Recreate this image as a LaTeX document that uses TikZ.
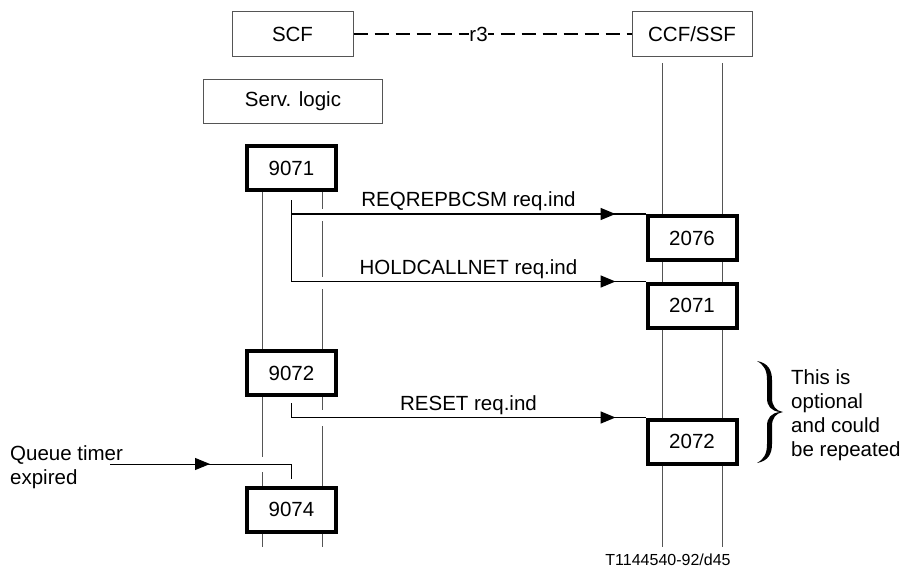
\documentclass[tikz,border=0pt]{standalone}
\usepackage{fontspec}
\setmainfont{Liberation Sans}
\usetikzlibrary{arrows.meta,decorations.markings}
\definecolor{lifegray}{RGB}{85,85,85}

\begin{document}
\begin{tikzpicture}[
    x=1pt, y=-1pt,
    every node/.style={font=\fontsize{20.5}{24}\selectfont},
    entity/.style={draw=lifegray, line width=1pt, minimum height=45pt, inner sep=0pt},
    statebox/.style={draw, line width=4pt, minimum width=89pt, minimum height=44pt, inner sep=0pt},
    life/.style={draw=lifegray, line width=1pt},
    midarrow/.style={
        postaction={decorate},
        decoration={markings, mark=at position #1 with {\arrow{Triangle[length=15pt, width=12pt]}}}
    },
    msg/.style={line width=1.6pt, midarrow=-30pt}
]
\useasboundingbox (0,0) rectangle (900,571);

% =================== Entities ===================
\node[entity, minimum width=121pt] (scf) at (292.5,34) {SCF};
\node[entity, minimum width=120pt] (ccf) at (692,34) {CCF/SSF};
\node[entity, minimum width=179pt, minimum height=44pt] (logic) at (293,101.5) {Serv. logic};

\draw[line width=1.5pt, dash pattern=on 14pt off 7pt]
    (scf) -- node[pos=0.45, fill=white, inner sep=0pt] (r3) {r3} (ccf);

% =================== State boxes ===================
\node[statebox] (s9071) at (291.5,168) {9071};
\node[statebox] (s9072) at (291.5,373) {9072};
\node[statebox] (s9074) at (291.5,509.5) {9074};
\node[statebox] (s2076) at (692,238) {2076};
\node[statebox] (s2071) at (692,305.5) {2071};
\node[statebox] (s2072) at (692,441.5) {2072};

% =================== Life lines ===================
\coordinate (sa) at (262,0);
\coordinate (sb) at (322,0);

% SCF, left line
\draw[life] (s9071.south -| sa) -- (s9072.north -| sa);
\draw[life] (s9072.south -| sa) -- (262,457);
\draw[life] (262,472) -- (s9074.north -| sa);
\draw[life] (s9074.south -| sa) -- (262,547);

% SCF, right line
\draw[life] (s9071.south -| sb) -- (322,209);
\draw[life] (322,221) -- (322,277);
\draw[life] (322,289) -- (s9072.north -| sb);
\draw[life] (s9072.south -| sb) -- (322,410);
\draw[life] (322,426) -- (s9074.north -| sb);
\draw[life] (s9074.south -| sb) -- (322,547);

% CCF/SSF
\foreach \x in {662,722} {
    \draw[life] (\x,63) -- (\x,214)
                (\x,262) -- (\x,281.5)
                (\x,329.5) -- (\x,417.5)
                (\x,465.5) -- (\x,547);
}

% =================== Messages ===================
\draw[msg] ([yshift=-8pt]s9071.south) |-
    node[above, pos=0.75, inner sep=2pt] {REQREPBCSM req.ind} (s2076.north west);
\draw[msg] ([yshift=-8pt]s9071.south) |-
    node[above, pos=0.75, inner sep=2pt] {HOLDCALLNET req.ind} (s2071.north west);
\draw[msg] ([yshift=-6pt]s9072.south) |-
    node[above, pos=0.75, inner sep=2pt] {RESET req.ind} (s2072.north west);

% Queue timer
\node[anchor=north west, align=left, inner sep=0pt] (queue) at (10,445) {Queue timer\\expired};
\coordinate (qstart) at (110,464);
\draw[line width=1pt, midarrow=100pt] (qstart) -| ([yshift=7pt]s9074.north);

% =================== Brace and note ===================
\fill (757,361) .. controls (768,363) and (772,370) .. (772,380)
    -- (772,398) .. controls (772,406) and (776,411) .. (783,412)
    .. controls (776,413) and (772,418) .. (772,426)
    -- (772,444) .. controls (772,454) and (768,461) .. (757,463)
    .. controls (764,459) and (767,454) .. (767,444)
    -- (767,426) .. controls (767,418) and (771,413) .. (780,412)
    .. controls (771,411) and (767,406) .. (767,398)
    -- (767,380) .. controls (767,370) and (764,365) .. (757,361) -- cycle;
\node[anchor=north west, align=left, inner sep=0pt] (note) at (791,369)
    {This is\\optional\\and could\\be repeated};

\node[font=\fontsize{16}{19}\selectfont] (fig) at (668,560) {T1144540-92/d45};

\end{tikzpicture}
\end{document}
